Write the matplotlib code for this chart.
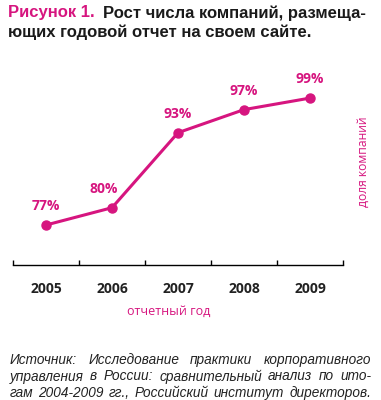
import matplotlib
matplotlib.use("Agg")
import matplotlib.pyplot as plt

# Data
years = ["2005", "2006", "2007", "2008", "2009"]
shares = [77, 80, 93, 97, 99]
labels = ["77%", "80%", "93%", "97%", "99%"]

PINK = "#d6157f"
W, H = 381, 400

fig = plt.figure(figsize=(W / 100, H / 100), dpi=100)

# Axes placed in pixel coordinates
left, right, top, bottom = 13, 343, 60, 265
ax = fig.add_axes([left / W, 1 - bottom / H, (right - left) / W, (bottom - top) / H])

x = list(range(len(years)))
ax.plot(x, shares, color=PINK, lw=2.2, marker="o", ms=6.5, solid_capstyle="round")
ax.set_xlim(-0.5, len(years) - 0.5)
ax.set_ylim(70.07, 105.6)

# value labels above points
offsets = [0, -0.12, 0, 0, 0]
for xi, yi, lab, dx in zip(x, shares, labels, offsets):
    ax.annotate(lab, (xi + dx, yi), xytext=(0, 13.5), textcoords="offset points",
                ha="center", va="center", color=PINK, fontsize=10,
                fontweight="bold", family="Open Sans")

for s in ["top", "left", "right"]:
    ax.spines[s].set_visible(False)
ax.spines["bottom"].set_linewidth(1.0)
ax.set_yticks([])
ax.set_xticks(x)
ax.set_xticklabels(years, fontsize=10, fontweight="bold", family="Open Sans", color="#222222")
ax.tick_params(axis="x", which="major", length=0, pad=12)
ax.set_xticks([i - 0.5 for i in range(len(years) + 1)], minor=True)
ax.tick_params(axis="x", which="minor", direction="in", length=3.5, width=1.0)

# axis titles
fig.text(169 / W, 1 - 311 / H, "отчетный год", color=PINK, fontsize=9,
         family="Open Sans", ha="center", va="center")
fig.text(363 / W, 1 - 162 / H, "доля компаний", color=PINK, fontsize=8.7,
         family="Open Sans", ha="center", va="center", rotation=90)

# title
tkw = dict(fontsize=12, fontweight="bold", family="Liberation Sans", va="center")
fig.text(8 / W, 1 - 13 / H, "Рисунок 1.", color=PINK, **tkw)
fig.text(103 / W, 1 - 13 / H, "Рост числа компаний, размеща-", color="#1a1a1a", **tkw)
fig.text(8 / W, 1 - 32 / H, "ющих годовой отчет на своем сайте.", color="#1a1a1a", **tkw)

# source note, justified
source_lines = [
    "Источник: Исследование практики корпоративного",
    "управления в России: сравнительный анализ по ито-",
    "гам 2004-2009 гг., Российский институт директоров.",
]
renderer = fig.canvas.get_renderer()
x0, x1 = 10, 371
for i, line in enumerate(source_lines):
    words = line.split(" ")
    y = 1 - (364 + i * 16.5) / H
    arts = [fig.text(0, y, w, fontsize=9.8, style="italic", family="Liberation Sans",
                     color="#222222", va="baseline") for w in words]
    widths = [a.get_window_extent(renderer).width for a in arts]
    gap = (x1 - x0 - sum(widths)) / (len(words) - 1)
    pos = x0
    for a, wd in zip(arts, widths):
        a.set_x(pos / W)
        pos += wd + gap

fig.savefig("out.png", dpi=100)
